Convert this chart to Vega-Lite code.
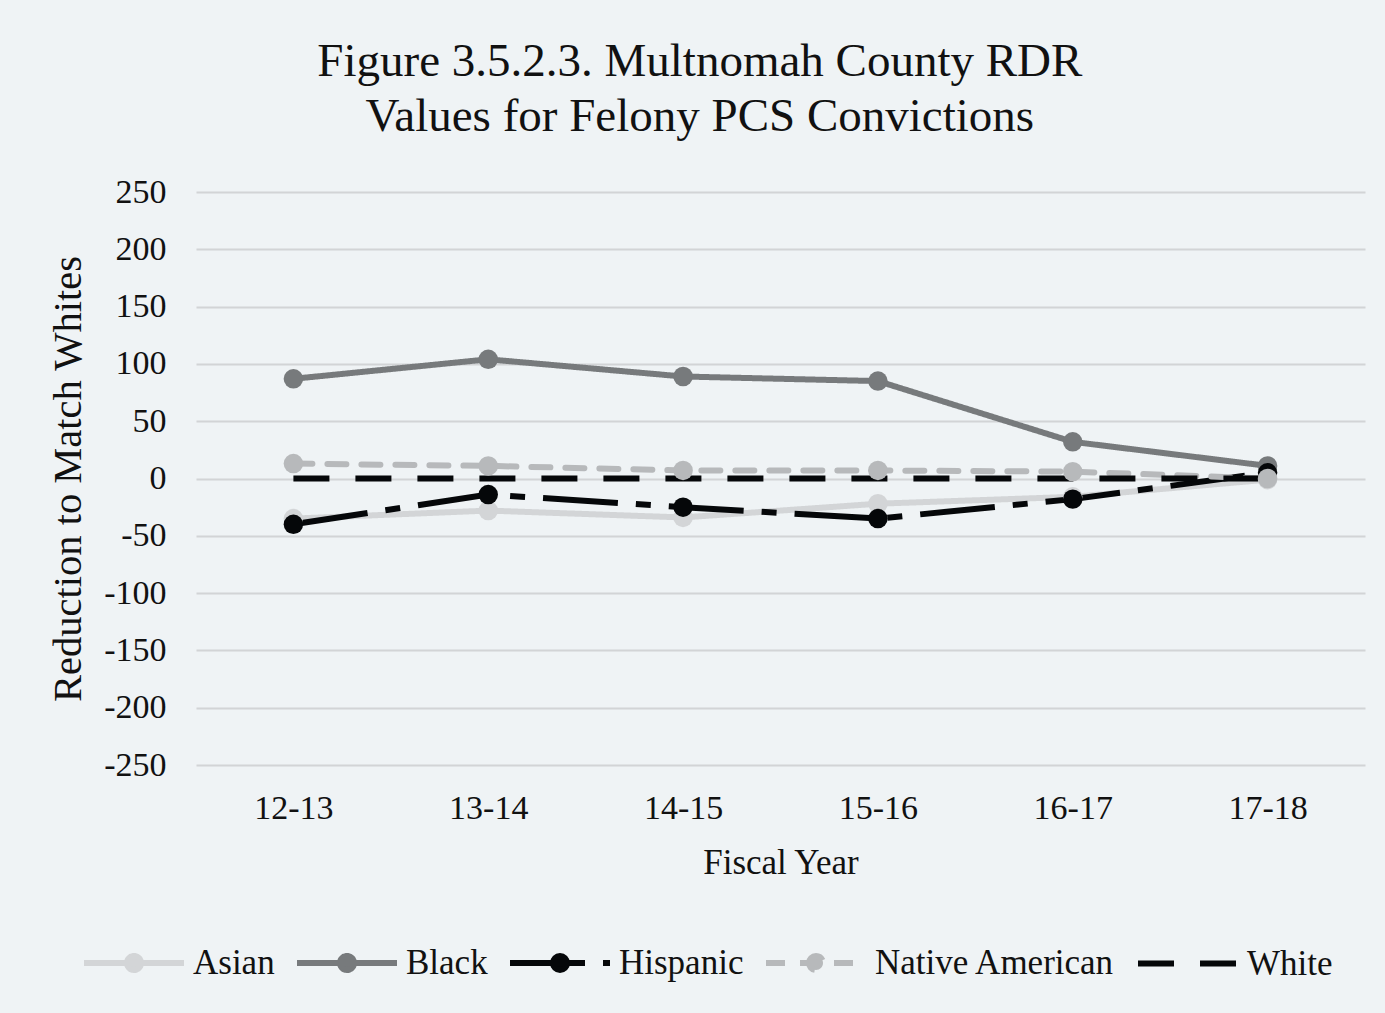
{
  "$schema": "https://vega.github.io/schema/vega-lite/v6.json",
  "width": 1169,
  "height": 573,
  "autosize": {"type": "none"},
  "padding": {"left": 196, "top": 192, "right": 20, "bottom": 248},
  "background": "#eff3f5",
  "config": {"view": {"stroke": null}, "font": "Liberation Serif"},
  "title": {
    "text": ["Figure 3.5.2.3. Multnomah County RDR", "Values for Felony PCS Convictions"],
    "fontSize": 47,
    "font": "Liberation Serif",
    "fontWeight": "normal",
    "color": "#111111",
    "lineHeight": 55,
    "anchor": "middle",
    "frame": "bounds",
    "offset": 34,
    "dx": -7
  },
  "data": {
    "values": [
      {"group": "Asian", "year": "12-13", "value": -35},
      {"group": "Asian", "year": "13-14", "value": -28},
      {"group": "Asian", "year": "14-15", "value": -34},
      {"group": "Asian", "year": "15-16", "value": -22},
      {"group": "Asian", "year": "16-17", "value": -16},
      {"group": "Asian", "year": "17-18", "value": -1},
      {"group": "Black", "year": "12-13", "value": 87},
      {"group": "Black", "year": "13-14", "value": 104},
      {"group": "Black", "year": "14-15", "value": 89},
      {"group": "Black", "year": "15-16", "value": 85},
      {"group": "Black", "year": "16-17", "value": 32},
      {"group": "Black", "year": "17-18", "value": 11},
      {"group": "Hispanic", "year": "12-13", "value": -40},
      {"group": "Hispanic", "year": "13-14", "value": -14},
      {"group": "Hispanic", "year": "14-15", "value": -25},
      {"group": "Hispanic", "year": "15-16", "value": -35},
      {"group": "Hispanic", "year": "16-17", "value": -18},
      {"group": "Hispanic", "year": "17-18", "value": 5},
      {"group": "Native American", "year": "12-13", "value": 13},
      {"group": "Native American", "year": "13-14", "value": 11},
      {"group": "Native American", "year": "14-15", "value": 7},
      {"group": "Native American", "year": "15-16", "value": 7},
      {"group": "Native American", "year": "16-17", "value": 6},
      {"group": "Native American", "year": "17-18", "value": 0},
      {"group": "White", "year": "12-13", "value": 0},
      {"group": "White", "year": "13-14", "value": 0},
      {"group": "White", "year": "14-15", "value": 0},
      {"group": "White", "year": "15-16", "value": 0},
      {"group": "White", "year": "16-17", "value": 0},
      {"group": "White", "year": "17-18", "value": 0}
    ]
  },
  "encoding": {
    "x": {
      "field": "year",
      "type": "ordinal",
      "scale": {"type": "point", "padding": 0.5},
      "axis": {
        "title": "Fiscal Year",
        "titleFont": "Liberation Serif",
        "titleFontSize": 35,
        "titleFontWeight": "normal",
        "titleColor": "#111111",
        "titlePadding": 20,
        "labelFont": "Liberation Serif",
        "labelFontSize": 34,
        "labelColor": "#111111",
        "labelAngle": 0,
        "labelPadding": 26,
        "domain": false,
        "ticks": false,
        "grid": false
      }
    },
    "y": {
      "field": "value",
      "type": "quantitative",
      "scale": {"domain": [-250, 250], "nice": false, "zero": false},
      "axis": {
        "title": "Reduction to Match Whites",
        "titleFont": "Liberation Serif",
        "titleFontSize": 40.5,
        "titleFontWeight": "normal",
        "titleColor": "#111111",
        "titlePadding": 14,
        "labelFont": "Liberation Serif",
        "labelFontSize": 34,
        "labelColor": "#111111",
        "labelPadding": 30,
        "labelExpr": "'' + datum.value",
        "values": [-250, -200, -150, -100, -50, 0, 50, 100, 150, 200, 250],
        "domain": false,
        "ticks": false,
        "grid": true,
        "gridColor": "#d2d4d6",
        "gridWidth": 2
      }
    },
    "color": {
      "field": "group",
      "type": "nominal",
      "scale": {
        "domain": ["Asian", "Black", "Hispanic", "Native American", "White"],
        "range": ["#d3d5d7", "#777a7c", "#050709", "#b7b9bb", "#050709"]
      },
      "legend": {
        "title": null,
        "orient": "none",
        "legendX": -115,
        "legendY": 718,
        "direction": "horizontal",
        "labelFont": "Liberation Serif",
        "labelFontSize": 35,
        "labelColor": "#111111",
        "labelOffset": 6,
        "labelLimit": 600,
        "columnPadding": 10,
        "symbolSize": 10000,
        "symbolStrokeWidth": 6,
        "symbolType": "M-1,0H1M-0.14,0A0.14,0.14,0,1,1,0.14,0A0.14,0.14,0,1,1,-0.14,0Z",
        "encode": {
          "symbols": {
            "update": {
              "fill": {"signal": "datum.value==='Asian'?'#d3d5d7':datum.value==='Black'?'#777a7c':datum.value==='Native American'?'#b7b9bb':'#050709'"},
              "shape": {"signal": "datum.value==='White'?'M-1,0H1':'M-1,0H1M-0.14,0A0.14,0.14,0,1,1,0.14,0A0.14,0.14,0,1,1,-0.14,0Z'"},
              "strokeDash": {"signal": "datum.value==='Hispanic'?[80,14,8,14]:datum.value==='Native American'?[14,12]:datum.value==='White'?[27,46]:[1,0]"},
              "opacity": {"value": 1}
            }
          }
        }
      }
    }
  },
  "layer": [
    {
      "transform": [{"filter": "datum.group==='Asian' || datum.group==='Black' || datum.group==='Hispanic'"}],
      "mark": {"type": "line", "strokeWidth": 6, "strokeCap": "butt"},
      "encoding": {
        "strokeDash": {
          "field": "group",
          "type": "nominal",
          "scale": {
            "domain": ["Asian", "Black", "Hispanic", "Native American", "White"],
            "range": [[1, 0], [1, 0], [75, 18, 15, 18], [19, 15], [36, 26]]
          },
          "legend": null
        }
      }
    },
    {
      "transform": [{"filter": "datum.group==='Native American'"}],
      "mark": {"type": "line", "strokeWidth": 6, "strokeCap": "round"},
      "encoding": {
        "strokeDash": {"field": "group", "type": "nominal", "legend": null}
      }
    },
    {
      "transform": [{"filter": "datum.group==='White'"}],
      "mark": {"type": "line", "strokeWidth": 6, "strokeCap": "butt"},
      "encoding": {
        "strokeDash": {"field": "group", "type": "nominal", "legend": null}
      }
    },
    {
      "transform": [{"filter": "datum.group!=='White'"}],
      "mark": {"type": "point", "filled": true, "size": 380, "opacity": 1, "shape": "circle"},
      "encoding": {
        "color": {"field": "group", "type": "nominal", "legend": null}
      }
    }
  ]
}
